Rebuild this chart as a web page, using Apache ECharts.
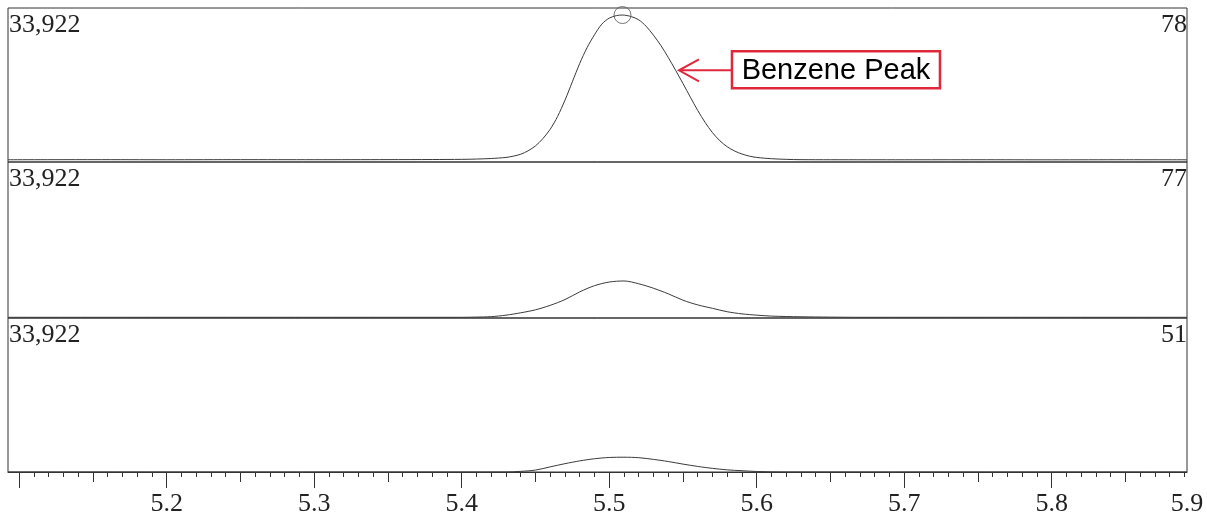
<!DOCTYPE html>
<html><head><meta charset="utf-8">
<script src="https://cdn.jsdelivr.net/npm/echarts@6/dist/echarts.min.js"></script>
<style>html,body{margin:0;padding:0;background:#fff}#c{width:1207px;height:518px}</style>
</head><body><div id="c"></div>
<script>
// ---- data ----
const ionLabels = ['78', '77', '51'];
const scaleLabels = ['33,922', '33,922', '33,922'];
const tickLabels = ['5.2', '5.3', '5.4', '5.5', '5.6', '5.7', '5.8', '5.9'];
const tickLabelValues = [5.2, 5.3, 5.4, 5.5, 5.6, 5.7, 5.8, 5.8917];
const majorTickValues = [5.1, 5.2, 5.3, 5.4, 5.5, 5.6, 5.7, 5.8];
const midTickValues = [5.15, 5.25, 5.35, 5.45, 5.55, 5.65, 5.75, 5.85];

const ion78Time = [5.0924, 5.15, 5.20, 5.25, 5.30, 5.35, 5.38, 5.40, 5.41, 5.42, 5.43, 5.435, 5.44, 5.445, 5.45, 5.455, 5.46, 5.465, 5.47, 5.475, 5.48, 5.485, 5.49, 5.495, 5.50, 5.505, 5.509, 5.515, 5.52, 5.525, 5.53, 5.535, 5.54, 5.545, 5.55, 5.555, 5.56, 5.565, 5.57, 5.575, 5.58, 5.585, 5.59, 5.595, 5.60, 5.61, 5.62, 5.63, 5.65, 5.70, 5.75, 5.80, 5.85, 5.8917];
const ion78 = [60, 80, 60, 80, 70, 90, 110, 150, 220, 350, 600, 900, 1350, 2150, 3300, 5000, 7200, 10200, 14000, 18300, 22600, 26300, 29300, 31800, 33200, 33800, 33922, 33550, 32800, 31300, 29200, 26800, 24000, 21000, 17900, 14700, 11600, 8800, 6400, 4500, 3100, 2100, 1400, 900, 600, 300, 150, 80, 60, 50, 60, 40, 60, 50];

const ion77Time = [5.0924, 5.30, 5.40, 5.41, 5.42, 5.43, 5.44, 5.45, 5.46, 5.47, 5.48, 5.49, 5.50, 5.51, 5.52, 5.53, 5.54, 5.55, 5.56, 5.57, 5.58, 5.59, 5.60, 5.61, 5.62, 5.63, 5.65, 5.67, 5.75, 5.8917];
const ion77 = [0, 0, 0, 50, 150, 500, 1050, 1750, 2800, 4150, 5950, 7400, 8250, 8500, 7850, 6800, 5500, 4000, 2900, 2100, 1300, 800, 500, 280, 180, 120, 40, 0, 0, 0];

const ion51Time = [5.0924, 5.30, 5.43, 5.44, 5.45, 5.46, 5.47, 5.48, 5.49, 5.50, 5.51, 5.52, 5.53, 5.54, 5.55, 5.56, 5.57, 5.58, 5.59, 5.60, 5.61, 5.62, 5.75, 5.8917];
const ion51 = [0, 0, 0, 150, 450, 1200, 1950, 2600, 3100, 3400, 3460, 3350, 2950, 2450, 1850, 1300, 850, 500, 300, 120, 30, 0, 0, 0];

const peakTime = 5.509;
const peakValue = 33922;
const annotationText = 'Benzene Peak';
const annotationTarget = [5.5466, 21000];

// ---- layout ----
const X_MIN = 5.0924, X_MAX = 5.8917;
const gridsPx = [{top: 8, height: 154}, {top: 162, height: 156}, {top: 318, height: 154}];
const yRanges = [[-468, 35568], [-164, 36340], [0, 36036]];
const serif = 'Liberation Serif, Times New Roman, serif';
const ink = '#222';
const minorTickValues = [];
for (let i = 10; i <= 89; i++) minorTickValues.push(+(5 + i / 100).toFixed(2));

const chart = echarts.init(document.getElementById('c'), null, {renderer: 'canvas'});

const grids = gridsPx.map(g => ({
  left: 8, right: 20, top: g.top, height: g.height,
  show: true, borderColor: '#333', borderWidth: 1, backgroundColor: 'transparent',
  outerBoundsMode: 'none', containLabel: false
}));

function baseX(gridIndex) {
  return {type: 'value', gridIndex, min: X_MIN, max: X_MAX, position: 'bottom', offset: 0,
    splitLine: {show: false}, axisLabel: {show: false}, axisTick: {show: false}, axisLine: {show: false}};
}
const xAxes = [baseX(0), baseX(1),
  Object.assign(baseX(2), {
    axisLine: {show: true, onZero: false, lineStyle: {color: '#333', width: 1}},
    axisTick: {show: true, inside: false, length: 16, lineStyle: {color: '#333', width: 1}, customValues: majorTickValues},
    axisLabel: {show: true, customValues: tickLabelValues, margin: 19, fontFamily: serif, fontSize: 26, lineHeight: 26, color: ink,
      formatter: function (v) {
        let best = 0, d = Infinity;
        tickLabelValues.forEach((t, i) => { if (Math.abs(t - v) < d) { d = Math.abs(t - v); best = i; } });
        return tickLabels[best];
      }}
  }),
  Object.assign(baseX(2), {axisTick: {show: true, inside: false, length: 10, lineStyle: {color: '#333', width: 1}, customValues: midTickValues}}),
  Object.assign(baseX(2), {axisTick: {show: true, inside: false, length: 5, lineStyle: {color: '#333', width: 1}, customValues: minorTickValues}})
];
const yAxes = yRanges.map((r, i) => ({type: 'value', gridIndex: i, min: r[0], max: r[1], show: false, splitLine: {show: false}}));

function zip(t, v) { return t.map((x, i) => [x, v[i]]); }
const lineStyle = {color: '#3a3a3a', width: 1};
const common = {type: 'line', showSymbol: false, smooth: 0.3, lineStyle, silent: true};
const series = [
  Object.assign({xAxisIndex: 0, yAxisIndex: 0, data: zip(ion78Time, ion78)}, common),
  Object.assign({xAxisIndex: 1, yAxisIndex: 1, data: zip(ion77Time, ion77)}, common),
  Object.assign({xAxisIndex: 2, yAxisIndex: 2, data: zip(ion51Time, ion51)}, common),
  {type: 'scatter', xAxisIndex: 0, yAxisIndex: 0, data: [[peakTime, peakValue]], symbol: 'circle', symbolSize: 17,
    itemStyle: {color: 'rgba(0,0,0,0)', borderColor: '#555', borderWidth: 1}, silent: true, z: 5}
];

chart.setOption({animation: false, backgroundColor: '#fff', grid: grids, xAxis: xAxes, yAxis: yAxes, series});

// ---- graphics: panel labels and annotation ----
const graphics = [];
gridsPx.forEach((g, i) => {
  graphics.push({type: 'text', x: 9, y: g.top + 17, style: {text: scaleLabels[i], font: '26px ' + serif, fill: ink, textAlign: 'left', textVerticalAlign: 'middle'}});
  graphics.push({type: 'text', x: 1187, y: g.top + 17, style: {text: ionLabels[i], font: '26px ' + serif, fill: ink, textAlign: 'right', textVerticalAlign: 'middle'}});
});
const tip = chart.convertToPixel({xAxisIndex: 0, yAxisIndex: 0}, annotationTarget);
const red = '#e0283c';
const tx = tip[0], ty = tip[1];
const boxX = tx + 54, boxY = ty - 19, boxW = 208, boxH = 37;
graphics.push({type: 'line', shape: {x1: tx + 1, y1: ty, x2: boxX, y2: ty}, style: {stroke: red, lineWidth: 2}});
graphics.push({type: 'polyline', shape: {points: [[tx + 21, ty - 11], [tx + 1, ty], [tx + 21, ty + 11]]}, style: {stroke: red, lineWidth: 2, fill: null}});
graphics.push({type: 'rect', shape: {x: boxX, y: boxY, width: boxW, height: boxH}, style: {stroke: red, lineWidth: 2.5, fill: '#fff'}});
graphics.push({type: 'text', x: boxX + boxW / 2, y: boxY + boxH / 2 + 1, style: {text: annotationText, font: '29px Liberation Sans, Arial, sans-serif', fill: '#000', textAlign: 'center', textVerticalAlign: 'middle'}});
chart.setOption({graphic: graphics});
</script>
</body></html>
